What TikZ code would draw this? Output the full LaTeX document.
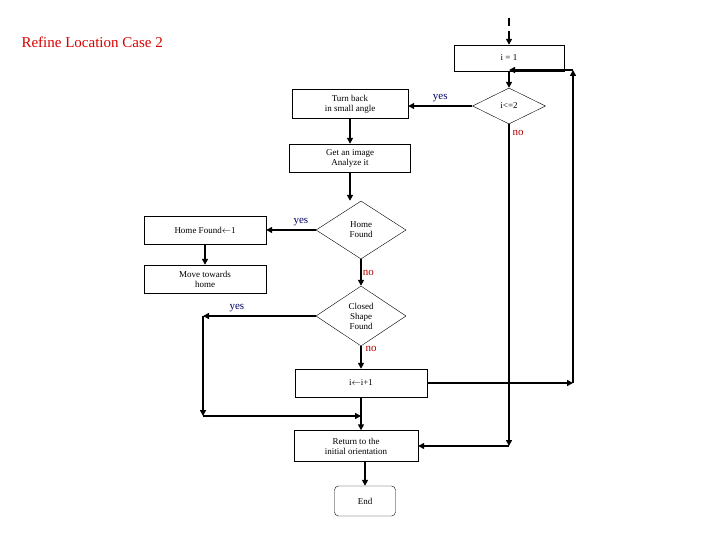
\documentclass[tikz,border=0pt]{standalone}
\usepackage{fontspec}
\setmainfont{Liberation Serif}
\usetikzlibrary{shapes.geometric,arrows.meta}
\begin{document}
\begin{tikzpicture}[x=1pt,y=-1pt,
  box/.style={draw,thin,minimum height=28pt,font=\fontsize{9}{10}\selectfont,align=center,inner sep=1pt},
  dia/.style={draw,thin,diamond,aspect=1.6,font=\fontsize{9}{10}\selectfont,align=center,inner sep=0pt},
  ln/.style={line width=1.8pt,-{Triangle[length=6pt,width=6pt]}},
  yes/.style={text=blue!40!black,font=\fontsize{11}{12}\selectfont},
  no/.style={text=red!70!black,font=\fontsize{11}{12}\selectfont}]
\useasboundingbox (0,0) rectangle (720,540);
\node[anchor=west,text=red!85!black,font=\fontsize{15}{18}\selectfont] (t) at (18,42) {Refine Location Case 2};
\node[box,minimum width=110pt,minimum height=26pt] (i1) at (509,58) {i = 1};
\node[dia,minimum width=73pt,minimum height=36pt] (d1) at (509,106) {i<=2};
\node[box,minimum width=116pt,minimum height=29pt] (tb) at (350,104) {Turn back\\in small angle};
\node[box,minimum width=121pt,minimum height=28pt] (gi) at (350,158) {Get an image\\Analyze it};
\node[dia,minimum width=90pt,minimum height=58pt] (hf) at (361,230) {Home\\Found};
\node[box,minimum width=122pt,minimum height=28pt] (h1) at (205,230) {Home Found$\leftarrow$1};
\node[box,minimum width=122pt,minimum height=28pt] (mv) at (205,279) {Move towards\\home};
\node[dia,minimum width=90pt,minimum height=60pt] (cs) at (361,316) {Closed\\Shape\\Found};
\node[box,minimum width=132pt,minimum height=28pt] (ii) at (361,383) {i$\leftarrow$i+1};
\node[box,minimum width=124pt,minimum height=31pt] (rt) at (356,446) {Return to the\\initial orientation};
\node[box,rounded corners=4pt,minimum width=61pt,minimum height=30pt] (en) at (365,501) {End};
\coordinate (top) at (509,18);
\coordinate (r1) at (573,383);
\coordinate (r2) at (573,70);
\coordinate (j1) at (509,70);
\coordinate (n1) at (509,446);
\coordinate (y1) at (203,316);
\coordinate (y2) at (203,416);
\coordinate (y3) at (361,416);
\draw[ln,dashed,dash pattern=on 8pt off 5pt] (top) -- (i1.north);
\draw[ln] (i1.south) -- (d1.north);
\draw[ln] (d1.west) -- node[yes,above]{yes} (d1.west -| tb.east);
\draw[ln] (tb.south) -- (gi.north);
\draw[ln] (d1.south) -- (n1);
\draw[ln] (n1) -- (rt.east);
\node[no] at (518,133) {no};
\draw[ln] (gi.south) -- (gi.south |- hf.north);
\draw[ln] (hf.west) -- node[yes,above,pos=0.3]{yes} (h1.east);
\draw[ln] (h1.south) -- (mv.north);
\draw[ln] (hf.south) -- node[no,right,inner sep=1pt]{no} (cs.north);
\draw[ln] (cs.west) -- node[yes,above,pos=0.7]{yes} (y1);
\draw[ln] (y1) -- (y2);
\draw[ln] (y2) -- (y3);
\draw[ln] (cs.south) -- (ii.north);
\node[no] at (371,349) {no};
\draw[ln] (ii.south) -- (ii.south |- rt.north);
\draw[ln] (rt.south -| en.north) -- (en.north);
\draw[ln] (ii.east) -- (r1);
\draw[ln] (r1) -- (r2);
\draw[ln] (r2) -- (j1);
\end{tikzpicture}
\end{document}
